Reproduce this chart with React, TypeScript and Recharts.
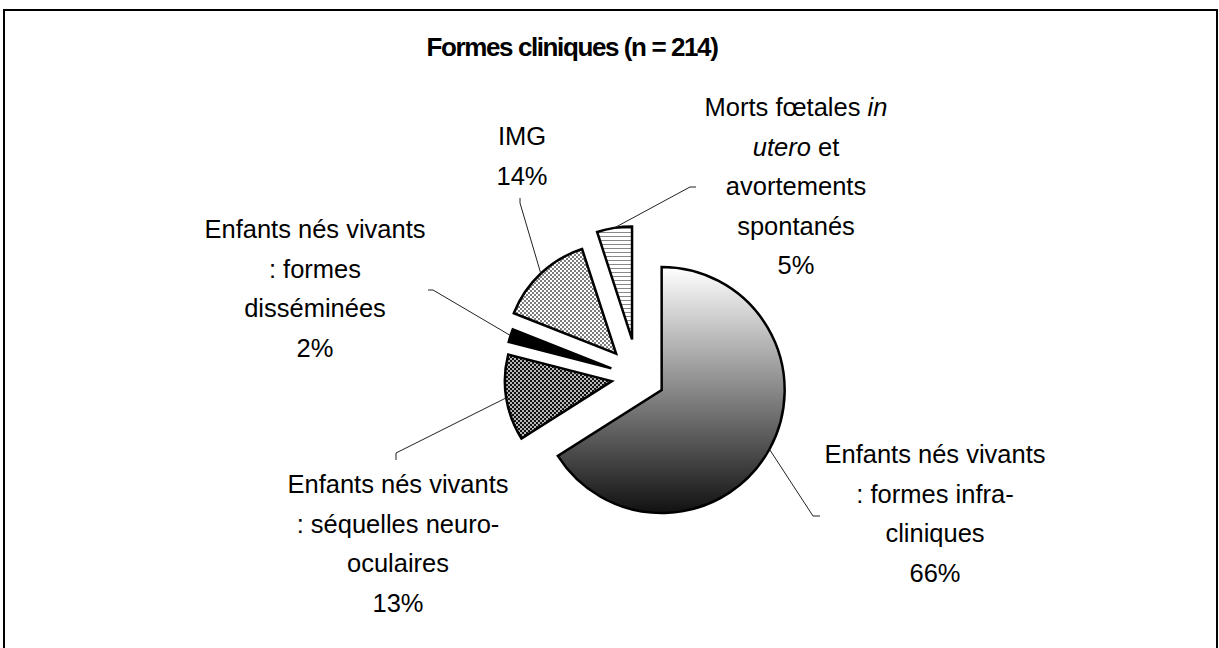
import React from "react";
import { PieChart, Pie, Cell } from "recharts";

// slices, clockwise from 12 o'clock
const CATEGORIES = [
  "Enfants nés vivants : formes infra-cliniques",
  "Enfants nés vivants : séquelles neuro-oculaires",
  "Enfants nés vivants : formes disséminées",
  "IMG",
  "Morts fœtales in utero et avortements spontanés",
];
const PERCENTS = [66, 13, 2, 14, 5];

// label text as drawn, *word* = italic (percentage line is added from PERCENTS)
const LABEL_TEXT: string[][] = [
  ["Enfants nés vivants", ": formes infra-", "cliniques"],
  ["Enfants nés vivants", ": séquelles neuro-", "oculaires"],
  ["Enfants nés vivants", ": formes", "disséminées"],
  ["IMG"],
  ["Morts fœtales *in*", "*utero* et", "avortements", "spontanés"],
];

const TITLE = "Formes cliniques (n = 214)";

// styling / layout
const FILLS = ["url(#grad66)", "url(#pat13)", "#000", "url(#pat14)", "url(#pat5)"];
const RADII = [123, 107, 106, 110, 113];
const EXPLODE = [27, 26.5, 28, 32, 38];
const PIE_CX = 638;
const PIE_CY = 377;
const LINE_GAP = 39.6;
const LABEL_POS = [
  { x: 935, y: 463, elbow: [813, 516], end: [820, 516] },
  { x: 398, y: 493, elbow: [396, 453], end: [396, 460] },
  { x: 315, y: 238, elbow: [433, 290], end: [428, 290] },
  { x: 522, y: 145, elbow: [520, 203], end: [520, 198] },
  { x: 796, y: 116, elbow: [690, 187], end: [696, 187] },
];

const FONT = "'Liberation Sans', Arial, sans-serif";
const RADIAN = Math.PI / 180;

const data = CATEGORIES.map((name, i) => ({ name, value: PERCENTS[i] }));
const total = PERCENTS.reduce((a, b) => a + b, 0);

function renderLine(line: string, key: number, x: number, y: number) {
  const parts = line.split("*");
  return (
    <text key={key} x={x} y={y} textAnchor="middle" fontFamily={FONT} fontSize={25.5} fill="#000">
      {parts.map((p, i) => (
        <tspan key={i} fontStyle={i % 2 === 1 ? "italic" : "normal"}>
          {p}
        </tspan>
      ))}
    </text>
  );
}

function makeLabel(k: number) {
  return (props: any) => {
    if (props.index !== k) return null;
    const { cx, cy, midAngle, outerRadius } = props;
    const sx = cx + Math.cos(-midAngle * RADIAN) * outerRadius;
    const sy = cy + Math.sin(-midAngle * RADIAN) * outerRadius;
    const pos = LABEL_POS[k];
    const lines = [...LABEL_TEXT[k], `${PERCENTS[k]}%`];
    return (
      <g>
        <polyline
          points={`${sx},${sy} ${pos.elbow[0]},${pos.elbow[1]} ${pos.end[0]},${pos.end[1]}`}
          fill="none"
          stroke="#222"
          strokeWidth={1}
        />
        {lines.map((l, i) => renderLine(l, i, pos.x, pos.y + i * LINE_GAP))}
      </g>
    );
  };
}

export default function App() {
  return (
    <div style={{ position: "absolute", left: 0, top: 0, width: 1219, height: 648, background: "#fff", overflow: "hidden" }}>
      <div
        style={{
          position: "absolute",
          left: 3,
          top: 9,
          width: 1211,
          height: 700,
          border: "2px solid #000",
        }}
      />
      <div style={{ position: "absolute", left: 0, top: 0 }}>
        <PieChart width={1219} height={648} margin={{ top: 0, right: 0, bottom: 0, left: 0 }}>
          <defs>
            <linearGradient id="grad66" x1="0" y1="0" x2="0" y2="1">
              <stop offset="0%" stopColor="#ffffff" />
              <stop offset="100%" stopColor="#111111" />
            </linearGradient>
            <pattern id="pat13" width="4" height="4" patternUnits="userSpaceOnUse">
              <rect width="4" height="4" fill="#111" />
              <circle cx="1" cy="1" r="0.95" fill="#fff" />
              <circle cx="3" cy="3" r="0.95" fill="#fff" />
            </pattern>
            <pattern id="pat14" width="4" height="4" patternUnits="userSpaceOnUse">
              <rect width="4" height="4" fill="#fff" />
              <circle cx="1" cy="1" r="0.95" fill="#444" />
              <circle cx="3" cy="3" r="0.95" fill="#444" />
            </pattern>
            <pattern id="pat5" width="4" height="4" patternUnits="userSpaceOnUse">
              <rect width="4" height="4" fill="#fff" />
              <rect y="0" width="4" height="1" fill="#888" />
            </pattern>
          </defs>
          <text
            x={572}
            y={56}
            textAnchor="middle"
            fontFamily={FONT}
            fontWeight="bold"
            fontSize={26}
            letterSpacing={-1.4}
            fill="#000"
          >
            {TITLE}
          </text>
          {data.map((_, k) => {
            const before = PERCENTS.slice(0, k).reduce((a, b) => a + b, 0);
            const mid = 90 - ((before + PERCENTS[k] / 2) / total) * 360;
            const cx = PIE_CX + EXPLODE[k] * Math.cos(mid * RADIAN);
            const cy = PIE_CY - EXPLODE[k] * Math.sin(mid * RADIAN);
            return (
              <Pie
                key={k}
                data={data}
                dataKey="value"
                nameKey="name"
                cx={cx}
                cy={cy}
                innerRadius={0}
                outerRadius={RADII[k]}
                startAngle={90}
                endAngle={-270}
                isAnimationActive={false}
                labelLine={false}
                label={makeLabel(k)}
              >
                {data.map((_, j) => (
                  <Cell
                    key={j}
                    fill={j === k ? FILLS[k] : "none"}
                    stroke={j === k ? "#000" : "none"}
                    strokeWidth={2.5}
                  />
                ))}
              </Pie>
            );
          })}
        </PieChart>
      </div>
    </div>
  );
}
